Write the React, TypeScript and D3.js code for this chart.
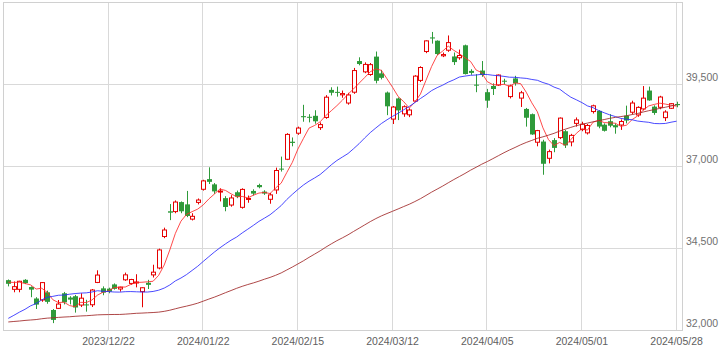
import React from 'react';
import * as d3 from 'd3';

const dates = [
  '2023/11/28','2023/11/29','2023/11/30','2023/12/01','2023/12/04','2023/12/05','2023/12/06','2023/12/07','2023/12/08','2023/12/11',
  '2023/12/12','2023/12/13','2023/12/14','2023/12/15','2023/12/18','2023/12/19','2023/12/20','2023/12/21','2023/12/22','2023/12/25',
  '2023/12/26','2023/12/27','2023/12/28','2023/12/29','2024/01/04','2024/01/05','2024/01/09','2024/01/10','2024/01/11','2024/01/12',
  '2024/01/15','2024/01/16','2024/01/17','2024/01/18','2024/01/19','2024/01/22','2024/01/23','2024/01/24','2024/01/25','2024/01/26',
  '2024/01/29','2024/01/30','2024/01/31','2024/02/01','2024/02/02','2024/02/05','2024/02/06','2024/02/07','2024/02/08','2024/02/09',
  '2024/02/13','2024/02/14','2024/02/15','2024/02/16','2024/02/19','2024/02/20','2024/02/21','2024/02/22','2024/02/26','2024/02/27',
  '2024/02/28','2024/02/29','2024/03/01','2024/03/04','2024/03/05','2024/03/06','2024/03/07','2024/03/08','2024/03/11','2024/03/12',
  '2024/03/13','2024/03/14','2024/03/15','2024/03/18','2024/03/19','2024/03/21','2024/03/22','2024/03/25','2024/03/26','2024/03/27',
  '2024/03/28','2024/03/29','2024/04/01','2024/04/02','2024/04/03','2024/04/04','2024/04/05','2024/04/08','2024/04/09','2024/04/10',
  '2024/04/11','2024/04/12','2024/04/15','2024/04/16','2024/04/17','2024/04/18','2024/04/19','2024/04/22','2024/04/23','2024/04/24',
  '2024/04/25','2024/04/26','2024/04/30','2024/05/01','2024/05/02','2024/05/07','2024/05/08','2024/05/09','2024/05/10','2024/05/13',
  '2024/05/14','2024/05/15','2024/05/16','2024/05/17','2024/05/20','2024/05/21','2024/05/22','2024/05/23','2024/05/24','2024/05/27',
  '2024/05/28'
];

const opens = [
  33520,33240,33240,33530,33310,32960,32915,33150,32610,32660,
  33120,32990,33030,32760,32780,32770,33450,33270,33260,33390,
  33250,33530,33420,33450,33170,33440,33680,33890,34850,35620,
  35610,35900,35830,35380,35890,36290,36600,36440,36220,36020,
  35810,36200,35740,36000,36240,36420,36220,35985,36270,36920,
  37205,37740,38000,38520,38500,38530,38170,38480,39320,39260,
  39170,38920,39250,40200,39870,39790,40335,39825,39240,38430,
  39060,38590,38560,38980,39610,40490,40920,40820,40360,40530,
  40340,40300,40680,39900,39480,39910,39250,39440,39470,39600,
  39116,39670,39070,38740,38580,37725,37745,37235,37790,37865,
  38060,37735,38300,38110,38010,38660,38680,38260,38365,38245,
  38250,38535,38640,38555,38740,39300,38810,38790,38474,38760,
  38890
];

const highs = [
  33540,33480,33500,33550,33330,33000,33460,33200,32640,32915,
  33160,33030,33070,33120,32920,33250,33820,33330,33290,33420,
  33320,33750,33560,33700,33300,33530,33990,34480,35120,35840,
  35950,35920,36240,35560,36010,36580,36960,36480,36320,36080,
  36110,36250,36320,36100,36290,36460,36260,36180,36950,37287,
  38000,37870,38200,38865,38580,38700,38330,39160,39400,39420,
  39300,39230,39990,40314,40160,40140,40490,39930,39270,38830,
  39090,38850,38760,39770,40040,40830,41087,40830,40460,40980,
  40460,40550,40700,39950,39800,40200,39350,39520,39790,39660,
  39480,39750,39290,38770,38600,38100,37800,37500,37850,38480,
  38100,37980,38480,38350,38280,38870,38700,38300,38580,38300,
  38420,38840,38990,38820,39437,39420,38850,39140,38700,38920,
  38960
];

const lows = [
  33330,33150,33150,33400,33000,32640,32860,32800,32210,32640,
  32780,32780,32530,32700,32560,32700,33430,33060,33120,33230,
  33170,33500,33380,33300,32693,33250,33600,33850,34800,35350,
  35560,35560,35440,35340,35830,36250,36450,36150,35920,35620,
  35760,36020,35700,35880,36100,36320,36120,35850,36150,36830,
  37180,37600,37950,38350,38330,38290,38100,38440,39150,39115,
  39080,38870,39200,40070,39830,39750,39520,39640,38550,38280,
  38400,38500,38490,38950,39560,40440,40730,40380,40320,40480,
  40080,40240,39790,39780,39250,39720,38774,39165,39440,39500,
  39060,39450,38800,38200,37950,37600,36733,37080,37420,37820,
  37550,37600,38200,38060,37960,38600,38150,38050,38180,37985,
  38100,38300,38580,38500,38700,38990,38560,38730,38370,38740,
  38790
];

const closes = [
  33408,33321,33486,33431,33231,32775,33445,32858,32307,32791,
  32843,32926,32686,32970,32758,33219,33675,33140,33169,33254,
  33305,33681,33539,33464,33288,33377,33763,34441,35049,35577,
  35901,35619,35477,35466,35963,36546,36517,36226,36236,35751,
  36026,36065,36286,36011,36158,36354,36160,36119,36863,36897,
  37963,37703,38157,38487,38470,38363,38262,39098,39233,39239,
  39208,39166,39910,40109,40097,40090,39598,39688,38820,38797,
  38695,38807,38707,39740,40003,40815,40888,40414,40398,40762,
  40168,40369,39803,39838,39451,39773,38992,39347,39773,39581,
  39442,39523,39232,38471,37962,38079,37068,37438,37552,38460,
  37628,37934,38405,38274,38236,38835,38202,38073,38229,38179,
  38356,38385,38920,38787,39069,39000,38617,39103,38646,38900,
  38855
];

// closes before the first visible candle (used only for the moving averages)
const priorCloses = [
  32204,32473,32059,32238,31766,31626,31450,31566,31856,32010,32287,31624,32169,32226,32333,32619,
  32710,32939,33036,33241,32991,32606,32467,32776,32706,33168,33533,33242,33023,32571,32402,32678,32315,32371,31872,31857,
  31759,31237,30526,31075,30994,31746,31936,32494,32315,31659,32040,32042,31430,31259,30999,31062,31269,30601,30991,30696,30858,
  31601,31950,32708,32271,32166,32646,32568,32585,32695,33519,33424,33585,33388,33354,33452,33625,33447
];

const maPeriods = [5, 25, 75];
const maColors = ['#ff2a2a', '#2a2aff', '#a02828'];

const tickDates = ['2023/12/22','2024/01/22','2024/02/15','2024/03/12','2024/04/05','2024/05/01','2024/05/28'];
const yTicks = [32000, 34500, 37000, 39500];

const UP = '#e60000';
const DOWN = '#2e9a3a';

export default function App() {
  const x = d3.scaleLinear().domain([0, dates.length - 1]).range([8.3, 676.6]);
  const y = d3.scaleLinear().domain([32000, 39500]).range([330, 84]);
  const fmt = d3.format(',');

  const all = priorCloses.concat(closes);
  const off = priorCloses.length;
  const mas = maPeriods.map(n =>
    closes.map((_, i) => d3.mean(all.slice(off + i - n + 1, off + i + 1)) as number)
  );
  const line = d3.line<number>().x((_, i) => x(i)).y(d => y(d));

  const left = 3.5, right = 682.5, top = 2.5, bottom = 330.5;
  const font = '"Liberation Sans", Arial, sans-serif';

  return (
    <svg width={719} height={356} style={{ position: 'absolute', left: 0, top: 0, background: '#fff' }}>
      <defs>
        <clipPath id="plot">
          <rect x={left} y={top} width={right - left} height={bottom - top} />
        </clipPath>
      </defs>
      {yTicks.slice(1).map(t => (
        <line key={t} x1={left} x2={right} y1={Math.round(y(t)) + 0.5} y2={Math.round(y(t)) + 0.5} stroke="#d9d9d9" />
      ))}
      {tickDates.map(d => {
        const xx = Math.round(x(dates.indexOf(d))) - 0.5;
        return <line key={d} x1={xx} x2={xx} y1={top} y2={bottom} stroke="#d9d9d9" />;
      })}
      <rect x={left} y={top} width={right - left} height={bottom - top} fill="none" stroke="#d0d0d0" />
      <g clipPath="url(#plot)">
        {closes.map((c, i) => {
          const o = opens[i];
          const up = c >= o;
          const cx = Math.round(x(i)) + 0.5;
          const col = up ? UP : DOWN;
          const yt = y(Math.max(o, c));
          const yb = y(Math.min(o, c));
          return (
            <g key={i}>
              <line x1={cx} x2={cx} y1={y(highs[i])} y2={y(lows[i])} stroke={col} strokeWidth={1} />
              {up ? (
                <rect x={cx - 2} y={yt} width={4} height={Math.max(1, yb - yt)} fill="#fff" stroke={col} strokeWidth={1} />
              ) : (
                <rect x={cx - 2.5} y={yt} width={5} height={Math.max(1, yb - yt)} fill={col} />
              )}
            </g>
          );
        })}
        {mas.map((m, k) => (
          <path key={k} d={line(m) || ''} fill="none" stroke={maColors[k]} strokeWidth={1} strokeOpacity={0.85} />
        ))}
      </g>
      {yTicks.map(t => (
        <text key={t} x={686} y={y(t) - 3} fontSize={10.5} fill="#707070" fontFamily={font}>{fmt(t)}</text>
      ))}
      {tickDates.map(d => (
        <text key={d} x={x(dates.indexOf(d))} y={345} fontSize={10.5} fill="#606060" fontFamily={font} textAnchor="middle">{d}</text>
      ))}
    </svg>
  );
}
